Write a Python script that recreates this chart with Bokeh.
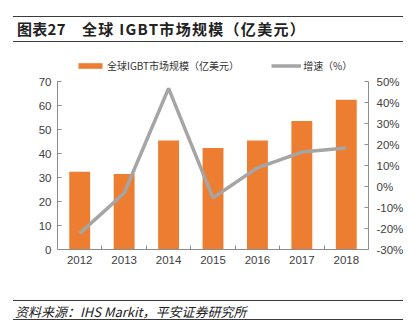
from bokeh.plotting import figure
from bokeh.layouts import column
from bokeh.models import (Range1d, LinearAxis, FixedTicker, PrintfTickFormatter,
                          Legend, LegendItem, Div)
from bokeh.embed import file_html
from bokeh.resources import INLINE

years = ["2012", "2013", "2014", "2015", "2016", "2017", "2018"]
market_size = [32.4, 31.5, 45.4, 42.3, 45.4, 53.5, 62.4]
growth_pct = [-22.3, -3.2, 46.7, -5.4, 8.9, 16.4, 18.3]
left_ticks = [0, 10, 20, 30, 40, 50, 60, 70]
right_ticks = [-30, -20, -10, 0, 10, 20, 30, 40, 50]

title_num = "图表27"
title_text = "全球 IGBT市场规模（亿美元）"
source_text = "资料来源：IHS Markit，平安证券研究所"
legend_bar = "全球IGBT市场规模（亿美元）"
legend_line = "增速（%）"

W = 419
HEAD_H, MAIN_H, FOOT_H = 51, 239, 44
FL, FR = 57, 368              # frame left/right (canvas px)
FT_MAIN, FB_MAIN = 6, 41      # border top/bottom inside main figure
FRAME_H = MAIN_H - FT_MAIN - FB_MAIN   # 192 px
AXIS_H = 168                  # px covered by the value axes
L_MIN, L_MAX = 0, 70
R_MIN, R_MAX = -30, 50
L_TOP = L_MIN + (L_MAX - L_MIN) * FRAME_H / AXIS_H
R_TOP = R_MIN + (R_MAX - R_MIN) * FRAME_H / AXIS_H

CJK = "Noto Sans CJK SC"
LAT = "Liberation Sans"
TICK_COLOR = "#404040"
AXIS_COLOR = "#8C8C8C"
RULE_COLOR = "#3A3A3A"

RULE = "position:absolute;left:13px;width:390px;height:0;border-top:1.5px solid " + RULE_COLOR + ";"

head_html = (
    f'<div style="position:relative;width:{W}px;height:{HEAD_H}px;font-family:\'{CJK}\';color:#222;">'
    f'<div style="{RULE}top:16px;"></div>'
    f'<div style="{RULE}top:40.5px;"></div>'
    f'<div style="position:absolute;left:17px;top:19px;font-size:15px;line-height:20px;'
    f'font-weight:bold;white-space:nowrap;letter-spacing:0.3px;">{title_num}</div>'
    f'<div style="position:absolute;left:82px;top:19px;font-size:15px;line-height:20px;'
    f'font-weight:bold;white-space:nowrap;letter-spacing:1.3px;">{title_text}</div>'
    '</div>'
)
head = Div(text=head_html, width=W, height=HEAD_H, margin=0)

foot_html = (
    f'<div style="position:relative;width:{W}px;height:{FOOT_H}px;font-family:\'{CJK}\';color:#222;">'
    f'<div style="{RULE}top:10px;"></div>'
    f'<div style="{RULE}top:28.5px;"></div>'
    f'<div style="position:absolute;left:15px;top:12.5px;font-size:13px;line-height:17px;'
    f'font-style:italic;white-space:nowrap;">{source_text}</div>'
    '</div>'
)
foot = Div(text=foot_html, width=W, height=FOOT_H, margin=0)

# ---- main chart ----
xs = list(range(len(years)))
p = figure(width=W, height=MAIN_H, x_range=Range1d(-0.5, len(years) - 0.5),
           y_range=Range1d(L_MIN, L_TOP), output_backend="svg", toolbar_location=None,
           min_border_left=FL, min_border_right=W - FR,
           min_border_top=FT_MAIN, min_border_bottom=FB_MAIN,
           x_axis_type=None, y_axis_type=None, margin=0)
p.outline_line_color = None
p.xgrid.visible = False
p.ygrid.visible = False
p.extra_y_ranges = {"pct": Range1d(R_MIN, R_TOP)}


def style_axis(ax):
    ax.axis_line_color = AXIS_COLOR
    ax.axis_line_width = 1
    ax.major_tick_line_color = AXIS_COLOR
    ax.minor_tick_line_color = AXIS_COLOR
    ax.major_label_text_font = LAT
    ax.major_label_text_font_size = "11.5px"
    ax.major_label_text_color = TICK_COLOR


xaxis = LinearAxis(ticker=FixedTicker(ticks=xs, minor_ticks=[i + 0.5 for i in xs[:-1]]),
                   major_label_overrides={i: y for i, y in zip(xs, years)})
style_axis(xaxis)
xaxis.major_tick_in = 0
xaxis.major_tick_out = 0
xaxis.minor_tick_in = 4
xaxis.minor_tick_out = 0
xaxis.major_label_standoff = 6
p.add_layout(xaxis, "below")

laxis = LinearAxis(ticker=FixedTicker(ticks=left_ticks), bounds=(L_MIN, L_MAX))
style_axis(laxis)
laxis.major_tick_in = 4
laxis.major_tick_out = 0
laxis.minor_tick_line_color = None
laxis.major_label_standoff = 6
p.add_layout(laxis, "left")

raxis = LinearAxis(y_range_name="pct", ticker=FixedTicker(ticks=right_ticks),
                   formatter=PrintfTickFormatter(format="%d%%"), bounds=(R_MIN, R_MAX))
style_axis(raxis)
raxis.major_tick_in = 4
raxis.major_tick_out = 0
raxis.minor_tick_line_color = None
raxis.major_label_standoff = 8
p.add_layout(raxis, "right")

bars = p.vbar(x=xs, top=market_size, width=0.47, fill_color="#ED7D31", line_color=None)
line = p.line(x=xs, y=growth_pct, y_range_name="pct", line_color="#A5A5A5", line_width=3.5)

legend = Legend(items=[LegendItem(label=legend_bar, renderers=[bars]),
                       LegendItem(label=legend_line, renderers=[line])],
                orientation="horizontal", location=(75 - FL, 249 - 60.5 - 12 - 51 - FT_MAIN + 57 - 0),
                glyph_width=30, glyph_height=7, label_height=12, label_standoff=2,
                spacing=32, padding=0, margin=0, border_line_color=None,
                background_fill_alpha=0, label_text_font=CJK,
                label_text_font_size="10px", label_text_color="#333333")
p.add_layout(legend, "center")

layout = column(head, p, foot, spacing=0, margin=0)
open("out.html", "w").write(file_html(layout, INLINE))
